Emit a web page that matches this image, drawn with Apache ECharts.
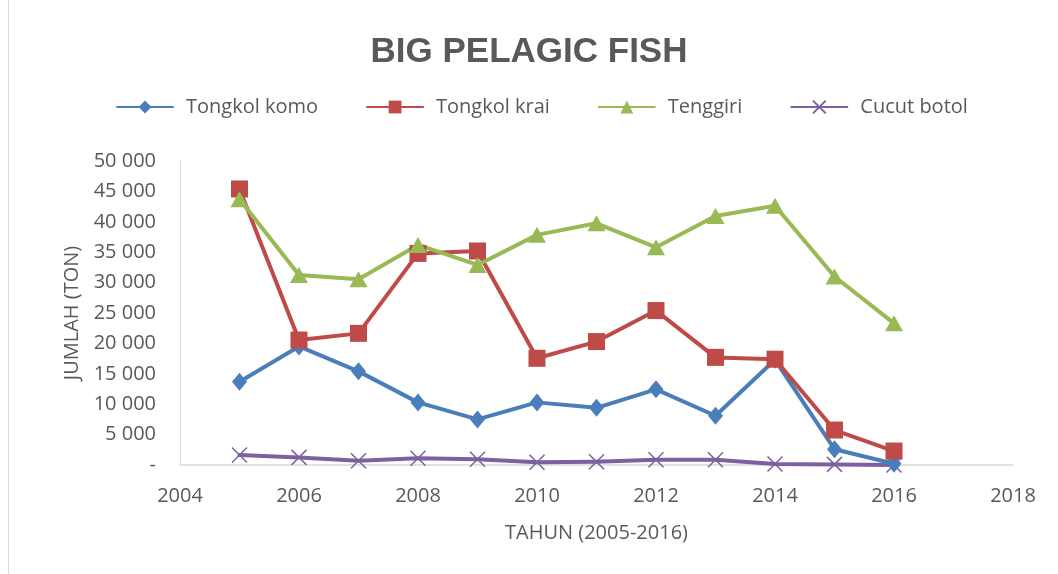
<!DOCTYPE html>
<html>
<head>
<meta charset="utf-8">
<script src="https://cdn.jsdelivr.net/npm/echarts@6/dist/echarts.min.js"></script>
<style>
  html, body { margin: 0; padding: 0; background: #fff; }
  #chart { width: 1058px; height: 574px; }
</style>
</head>
<body>
<div id="chart"></div>
<script>
// data
const years = [2005, 2006, 2007, 2008, 2009, 2010, 2011, 2012, 2013, 2014, 2015, 2016]
const tongkolKomo = [13700, 19500, 15400, 10300, 7500, 10300, 9400, 12450, 8100, 17300, 2600, 200]
const tongkolKrai = [45400, 20550, 21650, 34800, 35200, 17550, 20300, 25400, 17700, 17400, 5750, 2300]
const tenggiri = [43700, 31250, 30550, 36200, 32900, 37850, 39750, 35800, 40950, 42650, 31000, 23300]
const cucutBotol = [1650, 1250, 700, 1100, 950, 450, 550, 850, 850, 150, 100, 0]

const seriesNames = ['Tongkol komo', 'Tongkol krai', 'Tenggiri', 'Cucut botol']
const textColor = '#595959'
const font = 'Open Sans'

const pairs = vals => years.map((y, i) => [y, vals[i]])

// format like "45 000", zero as "-"
const fmt = v => v === 0 ? '-' : String(v).replace(/\B(?=(\d{3})+(?!\d))/g, ' ')

const makeLine = (name, vals, color, symbol, size, extra) => Object.assign({
  name: name,
  type: 'line',
  data: pairs(vals),
  symbol: symbol,
  symbolSize: size,
  lineStyle: { width: 4, color: color, cap: 'round', join: 'round' },
  itemStyle: { color: color },
  emphasis: { disabled: true },
  z: 2
}, extra || {})

const chart = echarts.init(document.getElementById('chart'), null, { renderer: 'canvas' })

chart.setOption({
  animation: false,
  backgroundColor: '#fff',
  title: {
    text: 'BIG PELAGIC FISH',
    left: 'center',
    top: 30,
    textStyle: {
      fontFamily: 'Liberation Sans',
      fontWeight: 'bold',
      fontSize: 35,
      color: textColor
    }
  },
  legend: {
    data: seriesNames,
    left: 116,
    top: 97,
    padding: 0,
    itemGap: 48,
    itemWidth: 56,
    itemHeight: 16,
    textStyle: { fontFamily: font, fontSize: 20, color: textColor, padding: [0, 0, 0, 8] }
  },
  grid: {
    left: 180,
    right: 45,
    top: 161,
    bottom: 109,
    containLabel: false
  },
  xAxis: {
    type: 'value',
    min: 2004,
    max: 2018,
    interval: 2,
    name: 'TAHUN (2005-2016)',
    nameLocation: 'middle',
    nameGap: 58,
    nameTextStyle: { fontFamily: font, fontSize: 20, color: textColor },
    axisLine: { lineStyle: { color: '#D9D9D9', width: 1.5 } },
    axisTick: { show: false },
    splitLine: { show: false },
    axisLabel: { fontFamily: font, fontSize: 20, color: textColor, margin: 21, formatter: v => String(v) }
  },
  yAxis: {
    type: 'value',
    min: 0,
    max: 50000,
    interval: 5000,
    name: 'JUMLAH (TON)',
    nameLocation: 'middle',
    nameGap: 86,
    nameTextStyle: { fontFamily: font, fontSize: 20, color: textColor },
    axisLine: { show: true, lineStyle: { color: '#D9D9D9', width: 1 } },
    axisTick: { show: false },
    splitLine: { show: false },
    axisLabel: { fontFamily: font, fontSize: 20, color: textColor, margin: 24, formatter: fmt }
  },
  graphic: [{
    type: 'line',
    shape: { x1: 8.5, y1: 0, x2: 8.5, y2: 574 },
    style: { stroke: '#D9D9D9', lineWidth: 1 }
  }],
  series: [
    makeLine('Tongkol komo', tongkolKomo, '#4A7EBB', 'diamond', [15, 18]),
    makeLine('Tongkol krai', tongkolKrai, '#BE4B48', 'rect', 17),
    makeLine('Tenggiri', tenggiri, '#98B954', 'triangle', [18, 16]),
    makeLine('Cucut botol', cucutBotol, '#7D60A0', 'path://M0,0L10,10M10,0L0,10', 15, {
      itemStyle: { color: 'none', borderColor: '#7D60A0', borderWidth: 1.5 },
      z: 1
    })
  ]
})
</script>
</body>
</html>
